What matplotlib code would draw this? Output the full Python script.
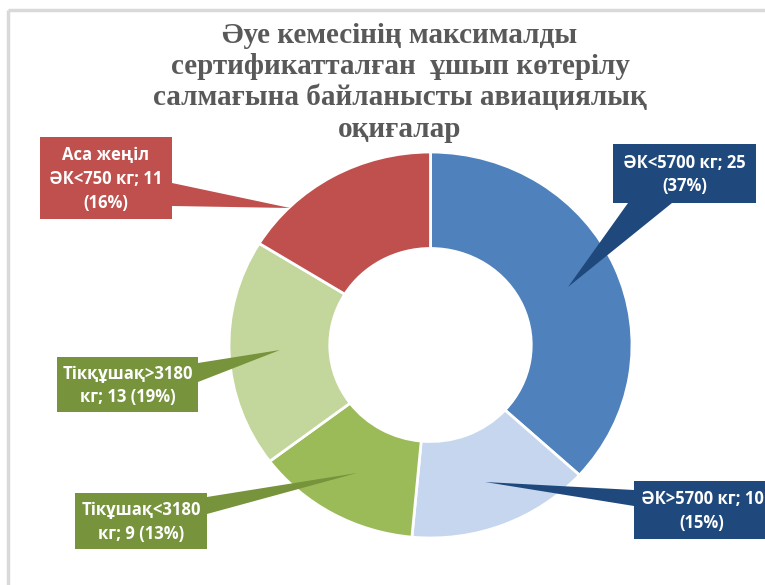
import textwrap
import matplotlib
matplotlib.use("Agg")
import matplotlib.pyplot as plt
from matplotlib.patches import Polygon, Rectangle

# data
names = ['ӘК<5700 кг', 'ӘК>5700 кг', 'Тікұшақ<3180 кг',
         'Тікқұшақ>3180 кг', 'Аса жеңіл ӘК<750 кг']
values = [25, 10, 9, 13, 11]
slice_colors = ['#4F81BD', '#C5D6EE', '#9BBB59', '#C3D69B', '#C0504D']
box_colors = ['#1F497D', '#1F497D', '#77933C', '#77933C', '#C0504D']

title = ('Әуе кемесінің максималды\n'
         'сертификатталған  ұшып көтерілу\n'
         'салмағына байланысты авиациялық\n'
         'оқиғалар')

W, H = 765, 585
# callout layout in pixels (image coords, y down): box (x0, y0, x1, y1),
# pointer base points and tip
boxes = [(613, 144, 756, 203), (634, 481, 770, 539), (75, 493, 207, 549),
         (57, 357, 198, 412), (40, 137, 172, 219)]
pointers = [((628, 203), (672, 203), (568, 287)),
            ((634, 490), (634, 506), (485, 482)),
            ((207, 497), (207, 514), (357, 473)),
            ((198, 363), (198, 382), (280, 350)),
            ((172, 183), (172, 206), (290, 208))]

fig = plt.figure(figsize=(W / 100, H / 100), dpi=100)

# donut, slightly stretched horizontally like the original
cx, cy, rx, ry = 430.5, 345, 201.5, 193
pax = fig.add_axes([(cx - rx) / W, (H - cy - ry) / H, 2 * rx / W, 2 * ry / H])
pax.pie(values, colors=slice_colors, startangle=90, counterclock=False,
        radius=1, wedgeprops=dict(width=0.5, edgecolor='white', linewidth=2))
pax.set_xlim(-1, 1)
pax.set_ylim(-1, 1)
pax.set_aspect('auto')
pax.axis('off')

# overlay in pixel coordinates
ax = fig.add_axes([0, 0, 1, 1])
ax.set_xlim(0, W)
ax.set_ylim(H, 0)
ax.patch.set_alpha(0)
ax.axis('off')

# chart border
ax.plot([8, W + 5], [10, 10], color='#D9D9D9', lw=2.5, solid_capstyle='butt')
ax.plot([8, 8], [10, H + 5], color='#D9D9D9', lw=2.5, solid_capstyle='butt')

ax.text(400, 22, title, ha='center', va='top', fontsize=21, fontweight='bold',
        color='#595959', family=['Liberation Serif', 'DejaVu Serif'],
        linespacing=1.2)

total = sum(values)
for i, v in enumerate(values):
    pct = round(100 * v / total)
    txt = '\n'.join(textwrap.wrap(f'{names[i]}; {v} ({pct}%)', 14))
    x0, y0, x1, y1 = boxes[i]
    b1, b2, tip = pointers[i]
    ax.add_patch(Polygon([b1, tip, b2], closed=True, color=box_colors[i],
                         lw=0, zorder=3))
    ax.add_patch(Rectangle((x0, y0), x1 - x0, y1 - y0, color=box_colors[i],
                           lw=0, zorder=4))
    ax.text((x0 + x1) / 2, (y0 + y1) / 2 + 1, txt, ha='center', va='center',
            color='white', fontsize=12, fontweight='bold',
            family=['Open Sans', 'Noto Sans', 'DejaVu Sans'], linespacing=1.4,
            zorder=5)

fig.savefig('out.png', dpi=100)
